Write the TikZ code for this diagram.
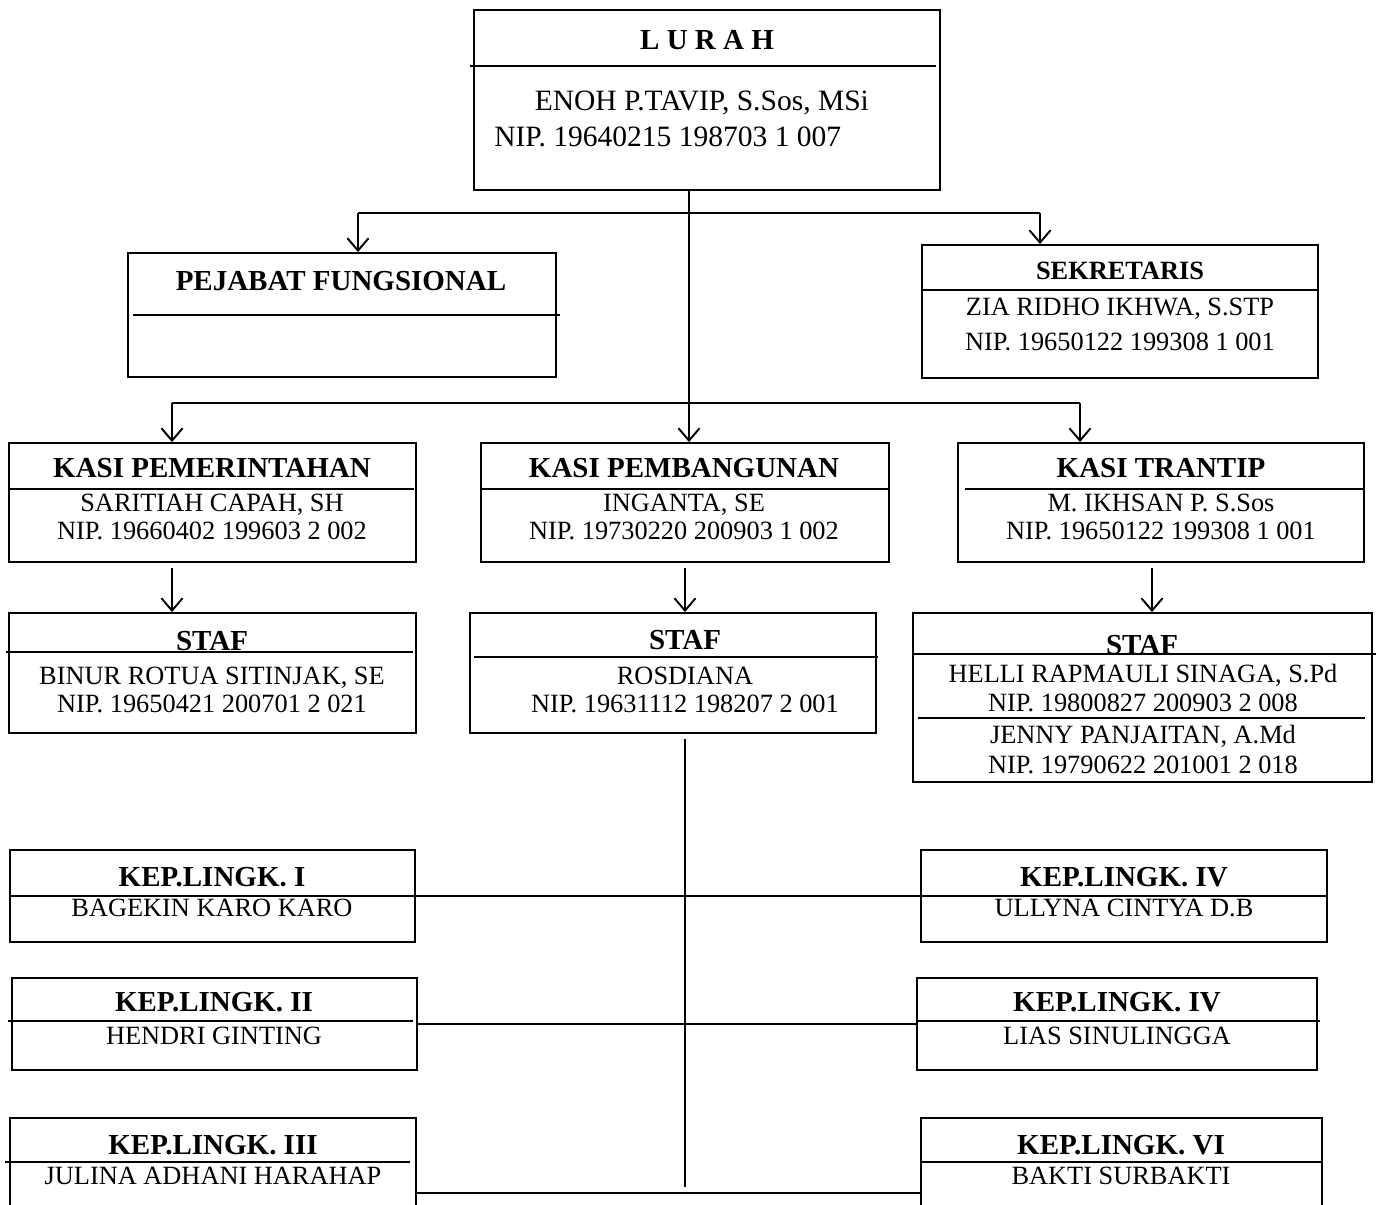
\documentclass[tikz,border=0pt]{standalone}
\usepackage{fontspec}
\setmainfont{Liberation Serif}
\usetikzlibrary{arrows.meta,calc}

\begin{document}
\begin{tikzpicture}[
  x=0.02cm, y=-0.02cm,
  box/.style={draw, line width=1.1pt, inner sep=0pt},
  ttl/.style={font=\fontsize{16.5}{20}\selectfont\bfseries, inner sep=0pt},
  txt/.style={font=\fontsize{15}{15.9}\selectfont, align=center, inner sep=0pt},
  sep/.style={line width=1.3pt},
  lnk/.style={line width=1.1pt},
  arr/.style={-{Straight Barb[length=7pt,width=12pt]}, line width=1.1pt}
]
\useasboundingbox[fill=white] (0,0) rectangle (1376,1204);
\clip (0,0) rectangle (1376,1204);

% ======= Lurah =======
\node[box, minimum width=9.32cm, minimum height=3.6cm] (lurah) at (707,100) {};
\draw[sep] (470,66) -- (936,66);
\node[ttl] (lurahT) at (707,40) {L U R A H};
\node[txt, font=\fontsize{16.8}{20.4}\selectfont, align=left, anchor=west] (lurahN) at (494,119)
  {\hspace*{23pt}ENOH P.TAVIP, S.Sos, MSi\\NIP. 19640215 198703 1 007};

% ======= Pejabat / Sekretaris =======
\node[box, minimum width=8.56cm, minimum height=2.48cm] (pej) at (342,315) {};
\draw[sep] (133,315) -- (560,315);
\node[ttl] (pejT) at (341,281) {PEJABAT FUNGSIONAL};

\node[box, minimum width=7.92cm, minimum height=2.66cm] (sek) at (1120,311.5) {};
\draw[sep] (922,290) -- (1318,290);
\node[ttl, font=\fontsize{15}{18}\selectfont\bfseries] (sekT) at (1120,271) {SEKRETARIS};
\node[txt, font=\fontsize{15}{19.8}\selectfont] (sekN) at (1120,324.5)
  {ZIA RIDHO IKHWA, S.STP\\NIP. 19650122 199308 1 001};

% ======= Kasi =======
\node[box, minimum width=8.14cm, minimum height=2.38cm] (kp) at (212.5,502.5) {};
\draw[sep] (9,489) -- (414,489);
\node[ttl] (kpT) at (212,468) {KASI PEMERINTAHAN};
\node[txt] (kpN) at (212,517) {SARITIAH CAPAH, SH\\NIP. 19660402 199603 2 002};

\node[box, minimum width=8.16cm, minimum height=2.38cm] (kb) at (685,502.5) {};
\draw[sep] (481,489) -- (889,489);
\node[ttl] (kbT) at (684,468) {KASI PEMBANGUNAN};
\node[txt] (kbN) at (684,517) {INGANTA, SE\\NIP. 19730220 200903 1 002};

\node[box, minimum width=8.12cm, minimum height=2.38cm] (kt) at (1161,502.5) {};
\draw[sep] (965,489) -- (1364,489);
\node[ttl] (ktT) at (1161,468) {KASI TRANTIP};
\node[txt] (ktN) at (1161,517) {M. IKHSAN P. S.Sos\\NIP. 19650122 199308 1 001};

% ======= Staf =======
\node[box, minimum width=8.14cm, minimum height=2.4cm] (sp) at (212.5,673) {};
\node[ttl] (spT) at (212,641) {STAF};
\draw[sep] (6,652) -- (413,652);
\node[txt] (spN) at (212,689.5) {BINUR ROTUA SITINJAK, SE\\NIP. 19650421 200701 2 021};

\node[box, minimum width=8.12cm, minimum height=2.4cm] (sb) at (673,673) {};
\node[ttl] (sbT) at (685,640) {STAF};
\draw[sep] (474,657) -- (878,657);
\node[txt] (sbN) at (685,689.5) {ROSDIANA\\NIP. 19631112 198207 2 001};

\node[box, minimum width=9.18cm, minimum height=3.38cm] (st) at (1142.5,697.5) {};
\node[ttl] (stT) at (1142,645) {STAF};
\draw[sep] (913,654) -- (1376,654);
\node[txt, font=\fontsize{15}{17}\selectfont] (stN1) at (1143,688)
  {HELLI RAPMAULI SINAGA, S.Pd\\NIP. 19800827 200903 2 008};
\draw[sep] (918,718) -- (1365,718);
\node[txt, font=\fontsize{15}{17.6}\selectfont] (stN2) at (1143,749.5)
  {JENNY PANJAITAN, A.Md\\NIP. 19790622 201001 2 018};

% ======= Kep. Lingkungan =======
\node[box, minimum width=8.1cm, minimum height=1.84cm] (k1) at (212.5,896) {};
\draw[sep] (10,896) -- (415,896);
\node[ttl] (k1T) at (212,877) {KEP.LINGK. I};
\node[txt] (k1N) at (212,908) {BAGEKIN KARO KARO};

\node[box, minimum width=8.12cm, minimum height=1.84cm] (k4a) at (1124,896) {};
\draw[sep] (921,896) -- (1327,896);
\node[ttl] (k4aT) at (1124,877) {KEP.LINGK. IV};
\node[txt] (k4aN) at (1124,908) {ULLYNA CINTYA D.B};

\node[box, minimum width=8.1cm, minimum height=1.84cm] (k2) at (214.5,1024) {};
\draw[sep] (8,1021) -- (413,1021);
\node[ttl] (k2T) at (214,1002) {KEP.LINGK. II};
\node[txt] (k2N) at (214,1036) {HENDRI GINTING};

\node[box, minimum width=8cm, minimum height=1.84cm] (k4b) at (1117,1024) {};
\draw[sep] (917,1021) -- (1320,1021);
\node[ttl] (k4bT) at (1117,1002) {KEP.LINGK. IV};
\node[txt] (k4bN) at (1117,1036) {LIAS SINULINGGA};

\node[box, minimum width=8.12cm, minimum height=1.84cm] (k3) at (213,1164) {};
\draw[sep] (5,1162) -- (410,1162);
\node[ttl] (k3T) at (213,1145) {KEP.LINGK. III};
\node[txt] (k3N) at (213,1176) {JULINA ADHANI HARAHAP};

\node[box, minimum width=8.02cm, minimum height=1.84cm] (k6) at (1121.5,1164) {};
\draw[sep] (921,1162) -- (1322,1162);
\node[ttl] (k6T) at (1121,1145) {KEP.LINGK. VI};
\node[txt] (k6N) at (1121,1176) {BAKTI SURBAKTI};

% ======= Connections =======
\coordinate (b1) at (358,213);
\coordinate (b2) at (1040,213);
\coordinate (k0) at (689,403);
\coordinate (c1) at (172,403);
\coordinate (c3) at (1080,403);
\coordinate (a3) at (1152,565);
\coordinate (t1) at (685,1187);
\coordinate (t2) at (685,1193);

\draw[lnk] (lurah.south -| k0) -- (k0);
\draw[lnk] (b1) -- (b2);
\draw[arr] (b1) -- (b1 |- pej.north);
\draw[arr] (b2) -- (b2 |- sek.north);

\draw[lnk] (c1) -- (c3);
\draw[arr] (c1) -- (c1 |- kp.north);
\draw[arr] (k0) -- (k0 |- kb.north);
\draw[arr] (c3) -- (c3 |- kt.north);

\draw[arr, shorten <=3pt] (kp.south -| c1) -- (c1 |- sp.north);
\draw[arr, shorten <=3pt] (kb.south -| t1) -- (t1 |- sb.north);
\draw[arr, shorten <=3pt] (kt.south -| a3) -- (a3 |- st.north);

\draw[lnk, shorten <=3pt] (sb.south -| t1) -- (t1);
\draw[lnk] (k1.east) -- (k4a.west);
\draw[lnk] (k2.east) -- (k4b.west);
\draw[lnk] (k3.east |- t2) -- (k6.west |- t2);

\end{tikzpicture}
\end{document}
